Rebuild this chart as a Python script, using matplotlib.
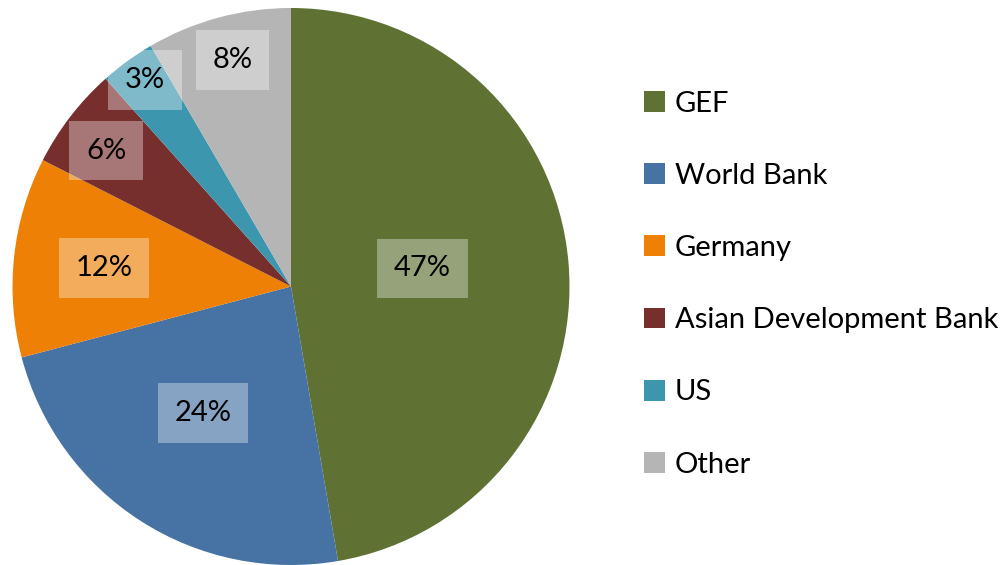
import matplotlib
matplotlib.use("Agg")
import matplotlib.pyplot as plt
from matplotlib.patches import Patch
import numpy as np

plt.rcParams['font.family'] = ['Lato', 'DejaVu Sans']

labels = ["GEF", "World Bank", "Germany", "Asian Development Bank", "US", "Other"]
shares = [47.3, 23.6, 11.6, 5.9, 3.2, 8.4]
pct_labels = ["47%", "24%", "12%", "6%", "3%", "8%"]
colors = ["#5f7233", "#4672a4", "#ee8006", "#772f2d", "#3c96ae", "#b5b5b5"]

# label placement (radius as fraction of pie radius, angle nudge in degrees)
label_r = [0.477, 0.553, 0.675, 0.824, 0.908, 0.840]
label_dang = [3.0, -2.0, 0.5, 1.3, -0.7, -0.6]

fig = plt.figure(figsize=(10.04, 5.65), dpi=100)
ax = fig.add_axes([12.5 / 1004, 0.0, 557 / 1004, 557 / 565])

wedges, _ = ax.pie(shares, colors=colors, startangle=90, counterclock=False,
                   radius=1, wedgeprops=dict(linewidth=0))

for w, t, r, da in zip(wedges, pct_labels, label_r, label_dang):
    ang = np.deg2rad((w.theta1 + w.theta2) / 2 + da)
    ax.text(r * np.cos(ang), r * np.sin(ang), t, ha="center", va="center",
            fontsize=21, color="black",
            bbox=dict(boxstyle="square,pad=0.57", fc="white", ec="none", alpha=0.35))

ax.set_xlim(-1, 1)
ax.set_ylim(-1, 1)
ax.set_aspect("equal")
ax.axis("off")

handles = [Patch(facecolor=c, edgecolor="none") for c in colors]
fig.legend(handles, labels, loc="upper left", bbox_to_anchor=(644 / 1004, 1 - 90.5 / 565),
           frameon=False, fontsize=21, handlelength=0.72, handleheight=0.72,
           handletextpad=0.34, labelspacing=1.585, borderpad=0, borderaxespad=0)

fig.savefig("out.png", dpi=100)
